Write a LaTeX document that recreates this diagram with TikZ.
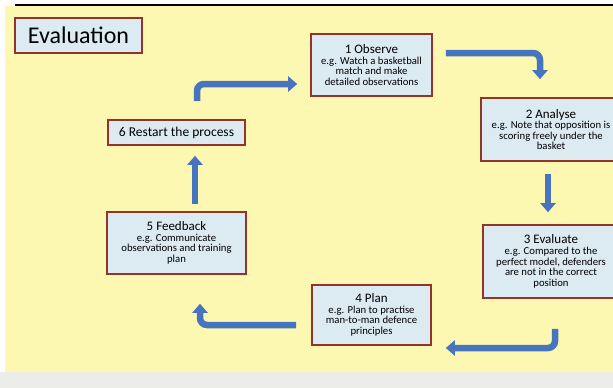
\documentclass[tikz,border=0pt]{standalone}
\usepackage{fontspec}
\setmainfont{Carlito}
\usetikzlibrary{arrows.meta,calc}

\definecolor{slideyellow}{RGB}{252,248,178}
\definecolor{boxblue}{RGB}{220,234,242}
\definecolor{boxred}{RGB}{146,52,44}
\definecolor{flowblue}{RGB}{70,116,190}
\definecolor{footgrey}{RGB}{236,236,232}

\tikzset{
  stagebox/.style={draw=boxred, fill=boxblue, line width=1.6pt, align=center,
    inner sep=2pt, font=\fontsize{10.7}{10.6}\selectfont},
  flow/.style={draw=flowblue, line width=6.5pt, rounded corners=7pt,
    -{Triangle[length=9pt,width=15pt]}},
}

\begin{document}
\begin{tikzpicture}[x=1pt,y=-1pt]

  % slide background
  \useasboundingbox (0,0) rectangle (613,388);
  \fill[slideyellow] (5,6) rectangle (613,372);
  \fill[footgrey] (0,372) rectangle (613,388);
  \draw[line width=2pt] (15,5) -- (613,5);

  \node[stagebox, minimum width=127, minimum height=35,
        font=\fontsize{24}{26}\selectfont] (title) at (78.5,35.5) {Evaluation};

  % the six stages
  \node[stagebox, minimum width=137, minimum height=25] (restart) at (176.5,132.5)
    {{\fontsize{13.5}{14}\selectfont 6 Restart the process}};
  \node[stagebox, minimum width=121, minimum height=62] (observe) at (371.5,65)
    {{\fontsize{13}{13}\selectfont 1 Observe}\\ e.g. Watch a basketball\\ match and make\\ detailed observations};
  \node[stagebox, minimum width=140, minimum height=63] (analyse) at (551,129.5)
    {{\fontsize{13}{13}\selectfont 2 Analyse}\\ e.g. Note that opposition is\\ scoring freely under the\\ basket};
  \node[stagebox, minimum width=136, minimum height=73] (evaluate) at (551,261.5)
    {{\fontsize{13}{13}\selectfont 3 Evaluate}\\ e.g. Compared to the\\ perfect model, defenders\\ are not in the correct\\ position};
  \node[stagebox, minimum width=119, minimum height=60] (plan) at (371.5,315)
    {{\fontsize{13}{13}\selectfont 4 Plan}\\ e.g. Plan to practise\\ man-to-man defence\\ principles};
  \node[stagebox, minimum width=139, minimum height=62] (feedback) at (176.5,243)
    {{\fontsize{13}{13}\selectfont 5 Feedback}\\ e.g. Communicate\\ observations and training\\ plan};

  % the cycle
  \draw[flow] ([shift={(20.5,-18)}]restart.north) |- ([shift={(-13,19)}]observe.west);
  \draw[flow] ([shift={(13,-12)}]observe.east) -| ([shift={(-11,-18)}]analyse.north);
  \draw[flow] ([shift={(-3,12)}]analyse.south) -- ([shift={(-3,-12)}]evaluate.north);
  \draw[flow] ([shift={(4,30)}]evaluate.south) |- ([shift={(14,33)}]plan.east);
  \draw[flow] ([shift={(-15,10)}]plan.west) -| ([shift={(23.5,29)}]feedback.south);
  \draw[flow] ([shift={(18.5,-7)}]feedback.north) -- ([shift={(18.5,10)}]restart.south);

\end{tikzpicture}
\end{document}
